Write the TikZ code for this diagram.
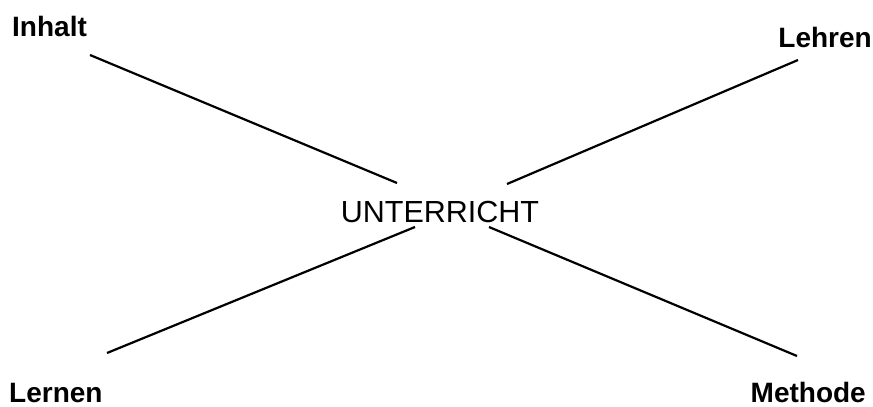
\documentclass[tikz,border=0pt]{standalone}
\usepackage{fontspec}
\setmainfont{Liberation Sans}
\begin{document}
\begin{tikzpicture}[x=1pt,y=-1pt,
  lbl/.style={inner sep=0pt, font=\fontsize{28}{30}\selectfont\bfseries},
  hub/.style={inner sep=0pt, font=\fontsize{30.5}{32}\selectfont},
  link/.style={line width=2.2pt}]
\useasboundingbox[fill=white] (0,0) rectangle (873,407);
\node[lbl, anchor=base west] (inhalt) at (12,36) {Inhalt};
\node[lbl, anchor=base east] (lehren) at (872,47) {Lehren};
\node[hub, anchor=base] (unt) at (440,222) {UNTERRICHT};
\node[lbl, anchor=base west] (lernen) at (9,402) {Lernen};
\node[lbl, anchor=base east] (methode) at (866,402) {Methode};
\coordinate (i1) at (90,55);
\coordinate (i2) at (397,183);
\coordinate (h1) at (798,60);
\coordinate (h2) at (507,184);
\coordinate (l1) at (107,353);
\coordinate (l2) at (415,227);
\coordinate (m1) at (797,356);
\coordinate (m2) at (489,227);
\draw[link] (i1) -- (i2);
\draw[link] (h1) -- (h2);
\draw[link] (l1) -- (l2);
\draw[link] (m1) -- (m2);
\end{tikzpicture}
\end{document}
